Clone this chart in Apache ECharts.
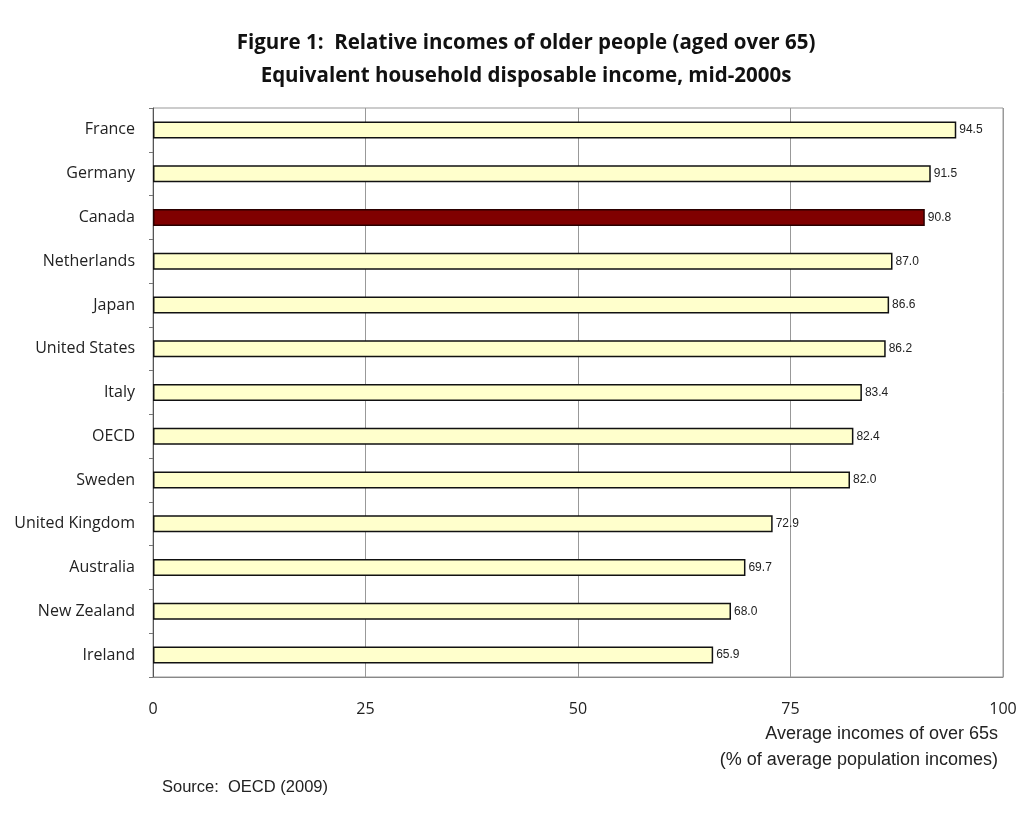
<!DOCTYPE html>
<html>
<head>
<meta charset="utf-8">
<script src="https://cdn.jsdelivr.net/npm/echarts@6/dist/echarts.min.js"></script>
<style>
  html, body { margin: 0; padding: 0; background: #fff; }
  #chart { width: 1021px; height: 825px; }
</style>
</head>
<body>
<div id="chart"></div>
<script>
// Countries, top to bottom
const countries = ['France', 'Germany', 'Canada', 'Netherlands', 'Japan', 'United States', 'Italy',
  'OECD', 'Sweden', 'United Kingdom', 'Australia', 'New Zealand', 'Ireland'];
// Average incomes of over 65s, % of average population incomes
const incomes = [94.5, 91.5, 90.8, 87.0, 86.6, 86.2, 83.4, 82.4, 82.0, 72.9, 69.7, 68.0, 65.9];
const highlighted = 'Canada';
const xTicks = [0, 25, 50, 75, 100];

const chart = echarts.init(document.getElementById('chart'), null, { renderer: 'canvas' });

const barData = countries.map((c, i) => ({
  value: incomes[i],
  itemStyle: c === highlighted
    ? { color: '#800000', borderColor: '#2a0000', borderWidth: 1.5 }
    : { color: '#FFFFCC', borderColor: '#111', borderWidth: 1.5 }
}));

const titleStyle = {
  fontFamily: 'Open Sans', fontWeight: 'bold', fontSize: 20.5,
  fill: '#111', align: 'center', verticalAlign: 'middle'
};

chart.setOption({
  backgroundColor: '#ffffff',
  animation: false,
  grid: { left: 153, right: 18, top: 108, bottom: 148, containLabel: false, show: true, borderColor: '#999', borderWidth: 1 },
  xAxis: {
    type: 'value',
    min: 0, max: 100, interval: 25,
    axisLine: { show: true, lineStyle: { color: '#888' } },
    axisTick: { show: false },
    splitLine: { show: true, lineStyle: { color: '#999', width: 1 } },
    axisLabel: {
      margin: 24,
      fontFamily: 'Open Sans', fontSize: 16, color: '#222',
      formatter: v => xTicks.includes(v) ? String(v) : ''
    }
  },
  yAxis: {
    type: 'category',
    data: countries,
    inverse: true,
    axisLine: { show: true, lineStyle: { color: '#555' } },
    axisTick: { show: true, length: 4, lineStyle: { color: '#777' } },
    axisLabel: {
      margin: 18,
      fontFamily: 'Open Sans', fontSize: 16, color: '#222'
    }
  },
  series: [{
    type: 'bar',
    data: barData,
    barWidth: 17,
    label: {
      show: true,
      position: 'right',
      distance: 3,
      fontFamily: 'Liberation Sans', fontSize: 12, color: '#222',
      formatter: p => p.value.toFixed(1)
    }
  }],
  graphic: [
    {
      type: 'text', x: 526, y: 43,
      style: Object.assign({ text: 'Figure 1:  Relative incomes of older people (aged over 65)' }, titleStyle)
    },
    {
      type: 'text', x: 526, y: 76,
      style: Object.assign({ text: 'Equivalent household disposable income, mid-2000s' }, titleStyle)
    },
    {
      type: 'text', right: 23, top: 725,
      style: {
        text: 'Average incomes of over 65s',
        fontFamily: 'Liberation Sans', fontSize: 18, fill: '#222'
      }
    },
    {
      type: 'text', right: 23, top: 751,
      style: {
        text: '(% of average population incomes)',
        fontFamily: 'Liberation Sans', fontSize: 18, fill: '#222'
      }
    },
    {
      type: 'text', left: 162, top: 779,
      style: {
        text: 'Source:  OECD (2009)',
        fontFamily: 'Liberation Sans', fontSize: 16.5, fill: '#222'
      }
    }
  ]
});
</script>
</body>
</html>
